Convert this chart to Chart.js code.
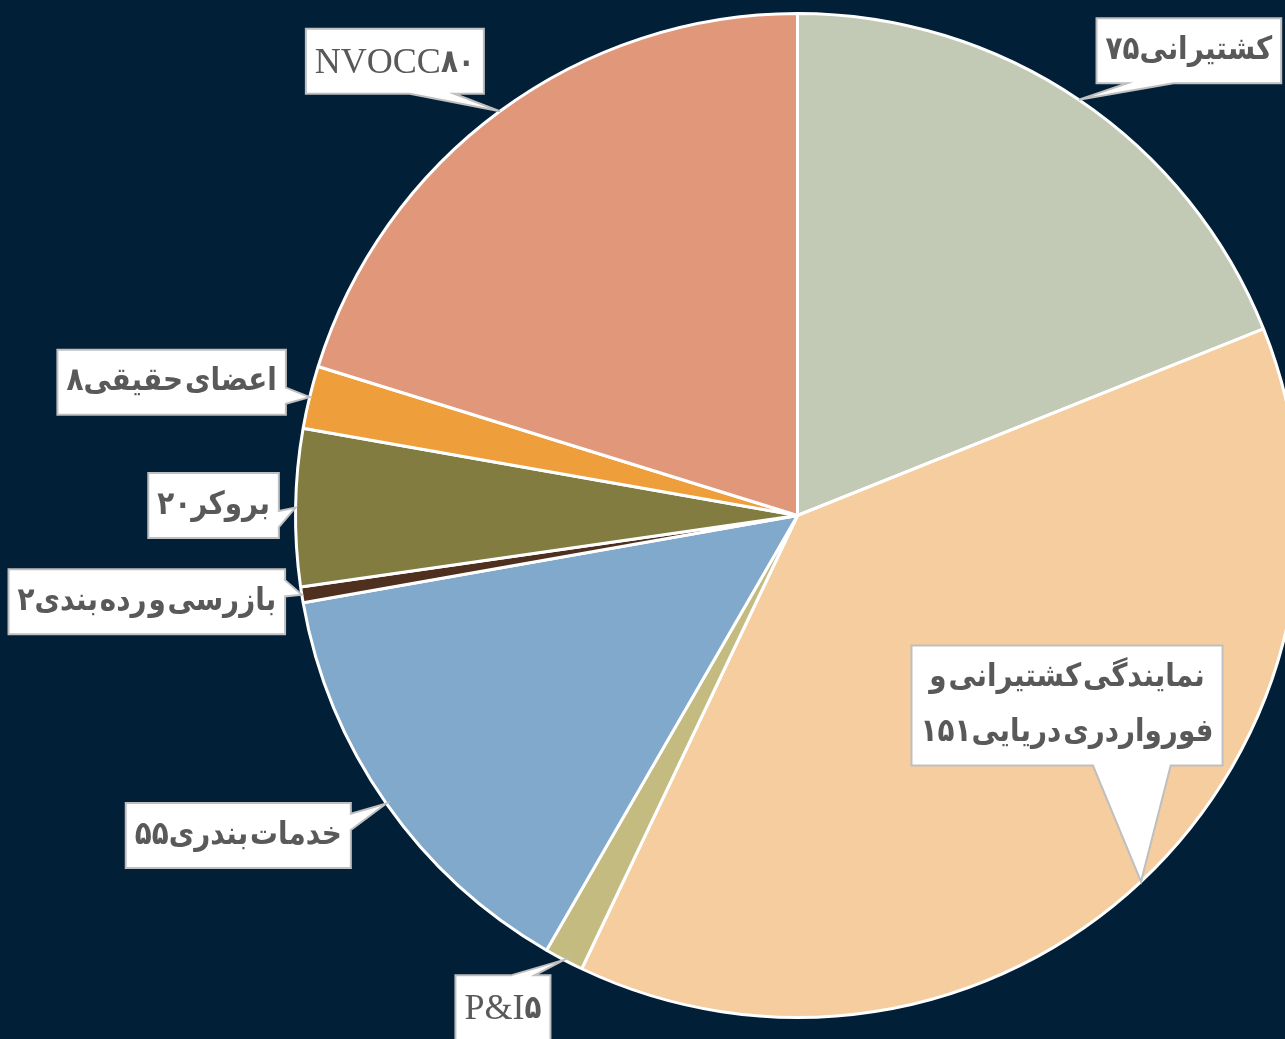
<!DOCTYPE html>
<html><head><meta charset="utf-8">
<script src="https://cdn.jsdelivr.net/npm/chart.js@4/dist/chart.umd.min.js"></script>
<style>
html,body{margin:0;padding:0;background:#011f37;overflow:hidden;width:1285px;height:1039px;}
canvas{display:block;}
</style></head><body>
<canvas id="c" width="1320" height="1039"></canvas>
<script>
const categories = ['کشتیرانی', ['نمایندگی کشتیرانی و', 'فورواردری دریایی'], 'P&I', 'خدمات بندری', 'بازرسی و رده بندی', 'بروکر', 'اعضای حقیقی', 'NVOCC'];
const values = [75, 151, 5, 55, 2, 20, 8, 80];
const sliceColors = ['#c2cab6', '#f5cd9e', '#c3bb80', '#80a9cb', '#4f2f1e', '#827c41', '#ee9f3c', '#e0977a'];
// callout box centre relative to the slice's outer mid-point
const calloutOffsets = [[110, -49], [-74, -176], [-61, 48], [-148, 32], [-155, 7], [-82, -2], [-138, -15], [-105, -50]];

const FA = '۰۱۲۳۴۵۶۷۸۹';
const toFa = v => String(v).replace(/\d/g, d => FA[d]);
const FA_FONT = 'bold 32px "DejaVu Sans"';
const FA_SCALE = 0.87;
const LAT_FONT = '36px "Liberation Serif"';
const LINE_H = 55, PAD_X = 9, PAD_Y = 5;

function calloutPath(ctx, bx, by, w, h, tx, ty) {
  const cx = bx + w / 2, cy = by + h / 2, dx = tx - cx, dy = ty - cy;
  const inside = tx > bx && tx < bx + w && ty > by && ty < by + h;
  let edge = null;
  if (!inside) edge = (Math.abs(dx) / w > Math.abs(dy) / h) ? (dx > 0 ? 'right' : 'left') : (dy > 0 ? 'bottom' : 'top');
  const ax = dx > 0 ? [7 / 12, 10 / 12] : [2 / 12, 5 / 12];
  const ay = dy > 0 ? [7 / 12, 10 / 12] : [2 / 12, 5 / 12];
  ctx.beginPath();
  ctx.moveTo(bx, by);
  if (edge === 'top') { ctx.lineTo(bx + w * ax[0], by); ctx.lineTo(tx, ty); ctx.lineTo(bx + w * ax[1], by); }
  ctx.lineTo(bx + w, by);
  if (edge === 'right') { ctx.lineTo(bx + w, by + h * ay[0]); ctx.lineTo(tx, ty); ctx.lineTo(bx + w, by + h * ay[1]); }
  ctx.lineTo(bx + w, by + h);
  if (edge === 'bottom') { ctx.lineTo(bx + w * ax[1], by + h); ctx.lineTo(tx, ty); ctx.lineTo(bx + w * ax[0], by + h); }
  ctx.lineTo(bx, by + h);
  if (edge === 'left') { ctx.lineTo(bx, by + h * ay[1]); ctx.lineTo(tx, ty); ctx.lineTo(bx, by + h * ay[0]); }
  ctx.closePath();
}

const calloutPlugin = {
  id: 'callouts',
  afterDatasetsDraw(chart) {
    const ctx = chart.ctx;
    const meta = chart.getDatasetMeta(0);
    meta.data.forEach((arc, i) => {
      const p = arc.getProps(['x', 'y', 'startAngle', 'endAngle', 'outerRadius'], true);
      const mid = (p.startAngle + p.endAngle) / 2;
      const tx = p.x + Math.cos(mid) * p.outerRadius;
      const ty = p.y + Math.sin(mid) * p.outerRadius;
      const cat = categories[i];
      const lines = Array.isArray(cat) ? cat.slice() : [cat];
      const num = toFa(chart.data.datasets[0].data[i]);
      const latin = /^[A-Za-z]/.test(lines[0]);
      ctx.save();
      ctx.wordSpacing = '-9px';
      let widths = [];
      let latW = 0, numW = 0;
      if (latin) {
        ctx.font = LAT_FONT; latW = ctx.measureText(lines[0]).width;
        ctx.font = FA_FONT; numW = ctx.measureText(num).width * FA_SCALE;
        widths = [latW + numW];
      } else {
        lines[lines.length - 1] = lines[lines.length - 1] + num;
        ctx.font = FA_FONT; ctx.direction = 'rtl';
        widths = lines.map(l => ctx.measureText(l).width * FA_SCALE);
      }
      const w = Math.max(...widths) + PAD_X * 2;
      const h = lines.length * LINE_H + PAD_Y * 2;
      const cx = tx + calloutOffsets[i][0], cy = ty + calloutOffsets[i][1];
      const bx = cx - w / 2, by = cy - h / 2;
      calloutPath(ctx, bx, by, w, h, tx, ty);
      ctx.fillStyle = '#ffffff';
      ctx.fill();
      ctx.strokeStyle = '#bfbfbf';
      ctx.lineWidth = 2;
      ctx.lineJoin = 'miter';
      ctx.stroke();
      ctx.fillStyle = '#595959';
      ctx.textBaseline = 'middle';
      if (latin) {
        ctx.direction = 'ltr';
        ctx.textAlign = 'left';
        const sx = cx - (latW + numW) / 2;
        ctx.font = LAT_FONT; ctx.fillText(lines[0], sx, cy + 2);
        ctx.font = FA_FONT;
        ctx.save();
        ctx.translate(sx + latW, cy + 2);
        ctx.scale(FA_SCALE, 1);
        ctx.fillText(num, 0, 0);
        ctx.restore();
      } else {
        ctx.direction = 'rtl';
        ctx.textAlign = 'center';
        ctx.font = FA_FONT;
        lines.forEach((l, k) => {
          ctx.save();
          ctx.translate(cx, by + PAD_Y + LINE_H * (k + 0.5));
          ctx.scale(FA_SCALE, 1);
          ctx.fillText(l, 0, 0);
          ctx.restore();
        });
      }
      ctx.restore();
    });
  }
};

new Chart(document.getElementById('c'), {
  type: 'pie',
  data: {
    labels: categories,
    datasets: [{
      data: values,
      backgroundColor: sliceColors,
      borderColor: '#ffffff',
      borderWidth: 3
    }]
  },
  options: {
    responsive: false,
    animation: false,
    layout: { padding: { left: 294, right: 19, top: 12, bottom: 20 } },
    plugins: { legend: { display: false }, tooltip: { enabled: false } }
  },
  plugins: [calloutPlugin]
});
</script>
</body></html>
